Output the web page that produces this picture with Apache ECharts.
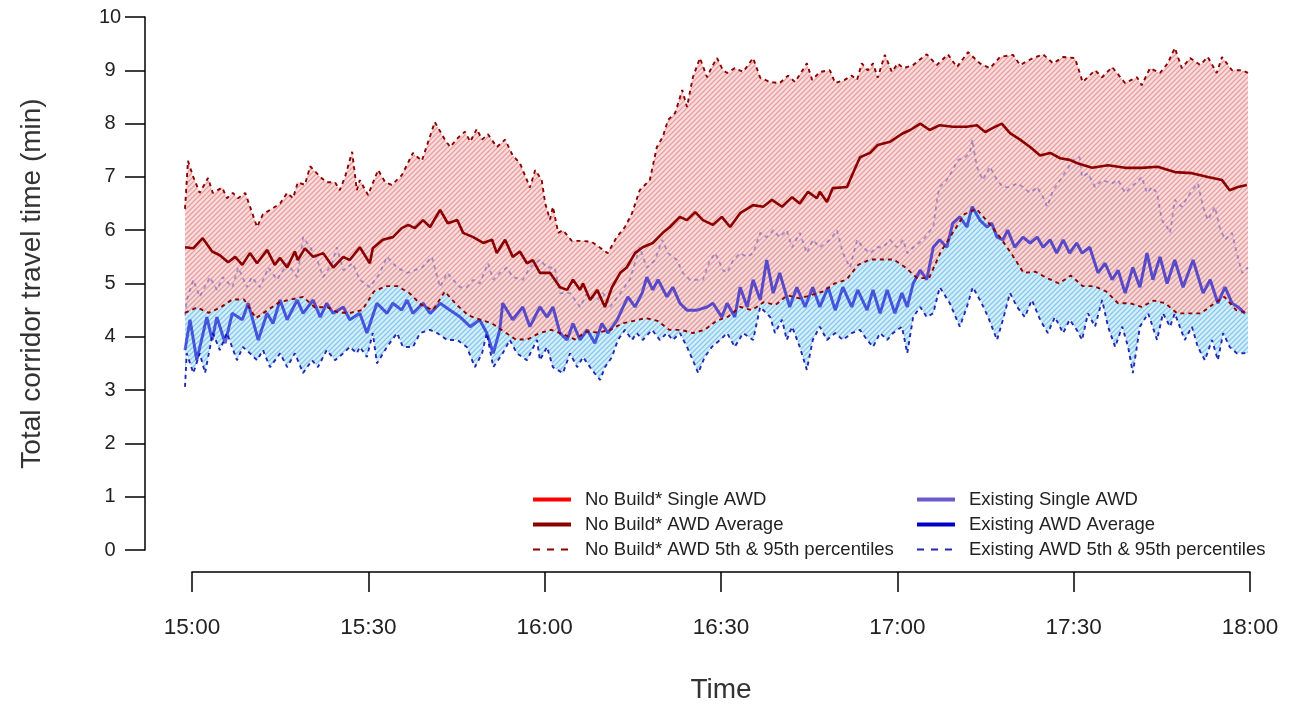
<!DOCTYPE html>
<html>
<head>
<meta charset="utf-8">
<script src="https://cdn.jsdelivr.net/npm/echarts@6/dist/echarts.min.js"></script>
<style>
  html, body { margin: 0; padding: 0; background: #fff; }
  #chart { width: 1292px; height: 706px; }
</style>
</head>
<body>
<div id="chart"></div>
<script>
// minutes after 15:00
const timeTicks = [0, 30, 60, 90, 120, 150, 180];

// No Build* 95th percentile
const nbHiT = [0,0.5,1.4,2.5,3.9,4.7,6.3,7.1,8.1,9.0,10.2,12.2,13.2,14.7,16.1,17.3,18.3,19.1,20.3,21.2,22.9,24.0,25.4,26.2,27.1,28.3,29.1,29.6,31.0,32.7,33.9,35.0,36.7,38.6,40.1,42.3,44.0,44.9,46.2,47.4,48.3,49.4,50.3,51.3,52.8,54.2,55.5,56.7,57.9,58.4,59.3,60.4,61.0,61.8,62.3,63.2,64.0,65.5,67.2,68.9,70.3,71.6,73.1,74.5,75.7,77.0,78.7,79.9,80.9,81.8,83.0,84.2,85.0,86.0,87.2,88.4,89.2,90.1,91.1,91.8,93.1,94.5,96.2,97.4,99.1,100.7,102.1,103.3,105.3,106.2,107.5,109.2,110.1,111.7,112.9,113.8,114.6,115.6,116.5,117.3,118.5,119.7,120.7,121.6,123.3,125.6,127.3,129.2,130.7,132.6,134.6,136.3,138.0,140.2,141.4,143.6,145.3,147.0,148.7,150.7,152.0,154.1,155.3,157.0,159.2,161.2,162.0,163.4,165.1,166.4,167.6,168.8,170.2,171.9,173.2,174.7,175.6,177.3,179.0,180];
const nbHiV = [6.4,7.3,7.0,6.7,6.98,6.7,6.8,6.6,6.7,6.6,6.7,6.06,6.3,6.4,6.5,6.7,6.6,6.9,6.85,7.2,7.0,6.9,6.9,6.75,7.0,7.47,6.75,6.94,6.66,7.13,6.9,6.85,7.03,7.45,7.3,8.03,7.7,7.56,7.73,7.85,7.66,7.9,7.7,7.8,7.56,7.7,7.4,7.26,6.94,6.8,7.13,6.94,6.5,6.2,6.44,5.95,6.0,5.8,5.8,5.78,5.67,5.57,5.87,6.06,6.32,6.75,6.94,7.56,7.75,8.07,8.2,8.63,8.31,8.87,9.23,8.87,9.06,9.23,9.0,8.95,9.04,8.97,9.23,8.86,8.78,8.76,8.9,8.78,9.13,8.82,8.97,9.0,8.76,8.82,8.9,8.82,9.13,9.0,9.13,8.86,9.29,8.97,9.13,9.04,9.1,9.3,9.1,9.3,9.06,9.34,9.13,9.04,9.25,9.29,9.1,9.23,9.3,9.13,9.25,9.23,8.78,9.0,8.87,9.06,8.76,8.87,8.72,9.04,8.95,9.13,9.42,9.04,9.23,9.1,9.25,8.95,9.25,9.0,9.0,8.95];

// No Build* 5th percentile
const nbLoT = [0,2,4,6,8,10,12,14,16,18,20,22,24,26,28,30,32,34,36,38,40,42,44,46,48,50,52,54,56,58,60,62,64,66,68,70,72,74,76,78,80,82,84,86,88,90,92,94,96,98,100,102,104,106,108,110,112,114,116,118,120,122,124,126,128,130,132,134,136,138,140,142,144,146,148,150,152,154,156,158,160,162,164,166,168,170,172,174,176,178,180];
const nbLoV = [4.45,4.55,4.45,4.55,4.7,4.7,4.35,4.5,4.65,4.7,4.75,4.55,4.56,4.45,4.45,4.5,4.85,4.95,4.95,4.82,4.6,4.5,4.85,4.6,4.4,4.32,4.25,4.1,3.95,3.95,4.07,4.13,4.05,3.95,4.1,4.08,4.13,4.25,4.3,4.35,4.3,4.13,4.13,4.07,4.13,4.3,4.38,4.56,4.5,4.65,4.6,4.78,4.72,4.78,4.85,5.0,5.07,5.35,5.45,5.45,5.45,5.3,5.1,5.1,5.6,5.95,6.3,6.4,6.15,5.87,5.55,5.2,5.22,5.1,5.0,5.15,4.95,4.95,4.85,4.63,4.63,4.56,4.68,4.63,4.44,4.44,4.44,4.6,4.75,4.5,4.44];

// No Build* AWD average
const nbAvgT = [0,1.4,3.0,4.6,5.9,7.3,8.5,9.7,11.0,12.2,13.9,15.2,16.1,17.3,18.6,19.1,20.3,21.7,23.4,25.1,26.8,27.9,29.6,31.3,31.8,33.5,35.2,36.7,37.8,38.9,40.3,41.5,43.2,44.5,46.1,47.1,48.8,50.5,52.0,52.8,54.2,55.5,56.7,57.9,58.9,60.1,61.8,63.5,64.7,65.7,66.9,67.4,68.6,69.8,71.1,72.3,73.7,74.8,76.2,77.5,79.2,80.9,82.1,83.8,85.0,86.4,87.7,89.4,90.9,92.3,94.0,96.2,97.9,99.4,101.1,102.8,104.1,105.5,107.0,107.5,108.7,109.7,112.1,113.1,114.3,116.0,117.3,119.4,121.6,122.8,124.5,126.1,127.8,130.0,132.4,134.1,135.5,136.8,138.3,139.7,141.4,143.1,144.8,146.5,148.2,149.8,151.0,153.6,156.3,159.2,162.0,164.7,167.6,170.5,173.2,175.6,176.9,178.3,179.8];
const nbAvgV = [5.68,5.66,5.85,5.6,5.53,5.4,5.5,5.35,5.57,5.38,5.63,5.35,5.48,5.3,5.6,5.44,5.66,5.5,5.57,5.3,5.5,5.44,5.68,5.38,5.66,5.82,5.87,6.04,6.1,6.04,6.19,6.06,6.38,6.13,6.19,5.95,5.87,5.76,5.82,5.57,5.82,5.5,5.6,5.38,5.44,5.2,5.2,4.93,4.88,5.07,4.88,5.0,4.69,4.88,4.56,4.93,5.2,5.3,5.57,5.68,5.76,5.95,6.06,6.25,6.19,6.34,6.19,6.1,6.25,6.06,6.32,6.47,6.44,6.57,6.44,6.62,6.5,6.72,6.6,6.72,6.53,6.79,6.81,7.07,7.37,7.45,7.6,7.66,7.82,7.88,8.0,7.88,7.97,7.94,7.94,7.97,7.84,7.92,8.0,7.82,7.7,7.56,7.4,7.45,7.35,7.32,7.26,7.17,7.22,7.17,7.17,7.19,7.09,7.07,7.0,6.94,6.75,6.81,6.85];

// Existing 95th percentile
const exHiT = [0,0.3,1.4,2.5,4.2,5.4,6.4,8.0,9.0,10.5,11.3,12.7,14.1,15.6,17.3,19.0,20.0,21.2,22.4,23.4,24.9,25.7,26.8,28.4,29.6,31.3,33.0,34.2,35.9,37.6,38.9,40.1,41.8,43.2,44.4,45.4,46.6,47.7,48.8,49.9,51.3,52.2,53.3,54.5,55.5,57.2,58.4,60.1,61.3,62.6,63.5,65.2,66.9,68.1,69.8,70.8,72.0,73.7,75.3,77.0,78.2,79.6,80.8,81.8,83.3,84.3,85.5,86.7,87.7,88.9,89.8,91.1,91.8,92.8,94.0,95.2,96.2,97.4,98.5,99.6,100.7,101.9,102.8,104.1,105.3,106.3,107.5,109.2,110.4,111.4,112.6,113.8,114.8,116.0,117.2,118.2,119.4,120.5,121.6,122.3,123.3,125.0,126.7,127.4,127.8,129.0,130.0,130.9,132.1,132.9,133.3,134.1,135.1,136.3,137.5,138.5,139.7,140.9,141.9,143.1,144.3,145.3,146.0,147.0,148.2,149.3,150.4,151.5,151.9,152.9,154.1,155.3,157.0,158.0,159.2,160.9,162.0,162.9,163.7,164.6,165.4,166.3,166.8,167.6,168.8,170.2,171.5,172.4,173.2,174.4,175.2,176.1,177.3,178.1,179.0,180];
const exHiV = [4.4,4.69,5.07,4.75,5.12,4.88,5.12,4.93,5.3,4.93,5.12,4.93,5.3,5.07,5.38,5.12,5.87,5.68,5.44,5.12,5.38,5.68,5.25,5.38,5.07,4.93,5.2,5.5,5.3,5.2,5.25,5.3,5.5,4.93,5.2,5.07,4.93,4.93,5.07,5.0,5.38,5.07,5.2,5.3,5.12,5.07,5.3,5.45,5.3,5.3,4.82,4.82,4.56,4.82,4.69,4.82,4.56,4.82,5.07,5.68,5.3,5.44,5.82,5.57,5.44,5.2,5.07,5.07,5.07,5.44,5.57,5.25,5.2,5.44,5.57,5.5,5.57,5.95,5.87,6.0,5.87,6.0,5.68,5.95,5.57,5.82,5.68,5.82,6.0,5.57,5.3,5.82,5.68,5.57,5.68,5.68,5.82,5.68,5.82,5.57,5.68,5.82,6.06,6.62,6.81,6.94,7.13,7.32,7.37,7.45,7.7,7.19,6.94,7.19,6.94,6.81,6.81,6.88,6.81,6.7,6.81,6.62,6.44,6.75,6.94,7.13,7.32,7.37,7.0,7.07,6.81,6.94,6.88,6.94,6.7,6.88,7.0,6.7,6.81,6.7,6.19,6.06,5.95,6.57,6.44,6.7,6.88,6.44,6.19,6.44,6.06,5.82,5.95,5.57,5.2,5.3];

// Existing 5th percentile
const exLoT = [0,0.3,1.4,2.5,3.4,4.7,5.9,7.1,8.8,9.8,11.0,12.2,13.2,14.4,16.1,17.3,18.6,20.0,21.5,22.5,24.0,25.4,26.8,27.9,29.1,29.6,30.8,31.8,32.5,34.2,35.9,36.9,38.6,39.8,41.5,42.7,44.4,46.1,47.7,49.1,50.3,51.1,52.2,53.8,55.0,56.2,57.9,59.6,60.1,61.3,62.3,64.0,65.2,66.4,67.4,68.9,70.3,71.1,72.3,73.3,74.5,75.7,76.5,77.5,79.1,80.4,81.6,82.6,83.8,85.0,86.0,86.9,88.0,89.2,90.6,91.8,93.1,94.5,96.2,97.4,99.1,99.9,101.1,101.9,102.8,104.1,105.3,106.3,107.5,108.7,110.1,111.4,112.9,114.3,115.5,116.5,117.7,118.9,119.9,121.4,122.3,123.3,124.5,125.6,126.7,127.8,129.5,131.2,132.4,133.4,134.9,136.0,137.5,138.5,139.7,140.9,142.2,143.4,144.8,146.1,147.3,148.7,149.8,151.0,151.9,152.9,154.1,155.3,156.3,157.5,158.7,159.7,160.5,161.7,163.1,164.6,165.6,166.8,167.6,169.3,170.5,171.5,172.7,173.9,174.9,175.8,176.9,178.1,179.1,180];
const exLoV = [3.06,3.69,3.32,3.69,3.32,4.07,3.75,4.07,3.56,3.81,3.69,3.56,3.75,3.43,3.69,3.43,3.69,3.32,3.56,3.43,3.75,3.56,3.69,3.81,3.69,3.81,3.62,4.07,3.5,3.81,4.07,3.81,3.81,4.07,4.13,4.07,3.94,3.94,3.81,3.43,3.69,4.07,3.43,3.69,3.94,3.69,3.56,3.94,3.56,3.81,3.43,3.32,3.69,3.43,3.62,3.38,3.19,3.43,3.62,3.94,4.13,3.94,4.07,3.94,4.13,3.94,4.07,3.94,4.07,3.81,3.56,3.32,3.62,3.81,3.94,4.07,3.81,4.07,3.94,4.56,4.37,4.07,4.32,3.94,4.19,3.81,3.38,3.94,4.19,3.94,4.07,3.94,4.07,4.13,3.94,3.81,4.07,3.94,4.07,4.19,3.69,4.37,4.56,4.37,4.44,4.93,4.63,4.19,4.56,4.93,4.63,4.37,3.94,4.32,4.82,4.56,4.37,4.69,4.32,4.07,4.37,4.07,4.32,4.13,3.94,4.44,4.19,4.69,4.19,3.81,4.19,3.81,3.32,4.19,4.44,3.94,4.44,4.19,4.44,3.94,4.19,3.81,3.56,3.94,3.56,4.07,3.81,3.69,3.69,3.7];

// Existing AWD average
const exAvgT = [0,0.85,2.0,3.7,4.6,5.4,6.8,8.0,9.7,10.7,12.4,13.9,14.9,16.1,17.3,19.0,20.0,21.7,22.9,24.0,25.1,26.8,27.9,29.6,30.8,32.5,34.2,35.2,36.7,37.6,38.6,40.3,41.5,43.2,44.9,46.6,48.3,49.9,51.1,52.2,53.3,53.8,55.5,57.2,58.4,60.1,61.3,62.3,63.5,64.7,65.7,66.9,68.1,69.4,70.6,71.6,73.2,74.2,75.0,76.2,77.4,78.2,79.2,80.1,81.6,82.6,83.8,85.0,86.7,88.4,89.4,90.9,91.8,93.1,94.0,95.2,96.2,97.4,98.5,99.6,100.7,102.4,103.6,105.0,106.3,107.5,108.9,110.1,111.4,112.9,113.9,115.5,116.5,117.7,118.9,120.2,121.4,122.3,123.3,124.5,125.6,126.7,127.8,129.0,130.0,131.2,132.4,133.3,134.6,135.8,136.6,137.5,138.5,139.3,140.5,141.9,143.1,144.3,145.3,146.5,147.6,148.7,149.8,151.0,151.9,153.2,154.6,155.8,157.0,158.0,159.2,160.5,161.7,162.9,163.9,165.1,166.3,167.6,169.0,170.7,172.4,173.6,174.9,176.1,177.3,178.3,179.5];
const exAvgV = [3.75,4.32,3.56,4.37,3.94,4.37,3.88,4.44,4.32,4.63,3.94,4.44,4.25,4.69,4.32,4.69,4.44,4.69,4.37,4.63,4.44,4.56,4.32,4.44,4.07,4.63,4.44,4.63,4.5,4.69,4.44,4.63,4.44,4.63,4.5,4.37,4.19,4.32,4.07,3.69,4.13,4.63,4.32,4.56,4.19,4.56,4.37,4.56,4.07,3.94,4.25,3.94,4.13,3.88,4.25,4.07,4.32,4.56,4.75,4.56,4.82,5.12,4.88,5.07,4.75,4.93,4.63,4.5,4.5,4.56,4.63,4.37,4.63,4.37,4.93,4.56,5.07,4.69,5.44,4.82,5.2,4.56,4.93,4.56,4.93,4.56,4.93,4.5,4.93,4.56,4.88,4.5,4.88,4.44,4.88,4.44,4.82,4.56,5.0,5.25,5.07,5.68,5.82,5.68,6.13,6.25,6.06,6.44,6.19,6.06,6.13,5.87,5.82,6.0,5.68,5.87,5.76,5.87,5.68,5.82,5.57,5.82,5.57,5.76,5.57,5.68,5.2,5.38,5.07,5.25,4.82,5.3,4.93,5.57,5.07,5.5,5.0,5.44,4.93,5.44,4.82,5.07,4.63,4.93,4.63,4.56,4.44];

const FONT = "'Liberation Sans', Arial, sans-serif";

// diagonal hatch fill, like R's density shading
function hatch(bg, fg) {
  const c = document.createElement("canvas");
  c.width = 5;
  c.height = 5;
  const ctx = c.getContext("2d");
  ctx.fillStyle = bg;
  ctx.fillRect(0, 0, 5, 5);
  ctx.strokeStyle = fg;
  ctx.lineWidth = 1.3;
  ctx.beginPath();
  ctx.moveTo(-1, 6); ctx.lineTo(6, -1);
  ctx.moveTo(-1, 1); ctx.lineTo(1, -1);
  ctx.moveTo(4, 6); ctx.lineTo(6, 4);
  ctx.stroke();
  return { image: c, repeat: "repeat" };
}

const pair = (ts, vs) => ts.map((t, i) => [t, vs[i]]);

function band(id, hiT, hiV, loT, loV, fill, z) {
  return {
    type: "custom",
    id: id,
    z: z,
    silent: true,
    clip: true,
    xAxisIndex: 0,
    yAxisIndex: 0,
    data: [[0, 0]],
    renderItem: (params, api) => {
      const pts = [];
      hiT.forEach((t, i) => pts.push(api.coord([t, hiV[i]])));
      for (let i = loT.length - 1; i >= 0; i--) pts.push(api.coord([loT[i], loV[i]]));
      return { type: "polygon", shape: { points: pts }, style: { fill: fill } };
    },
  };
}

function line(name, data, color, width, type, z, opacity) {
  return {
    type: "line",
    name: name,
    data: data,
    z: z,
    xAxisIndex: 0,
    yAxisIndex: 0,
    symbol: "none",
    showSymbol: false,
    color: color,
    lineStyle: { color: color, width: width, type: type, opacity: opacity == null ? 1 : opacity },
  };
}

const legendText = { fontSize: 18.5, color: "#222", fontFamily: FONT, padding: [0, 0, 0, 9] };
const solidItem = (name) => ({ name: name, lineStyle: { width: 4, opacity: 1 }, itemStyle: { opacity: 0 } });
const dashItem = (name) => ({ name: name, lineStyle: { width: 2, type: [7, 7], opacity: 1 }, itemStyle: { opacity: 0 } });

const chart = echarts.init(document.getElementById("chart"));
const option = {
  animation: false,
  backgroundColor: "#fff",
  textStyle: { fontFamily: FONT },
  grid: [
    { left: 185, right: 44, top: 17, bottom: 156 },
    { left: 192, right: 42, top: 540, bottom: 134 },
  ],
  xAxis: [
    { type: "value", gridIndex: 0, min: 0, max: 180, show: false },
    {
      type: "value",
      gridIndex: 1,
      min: 0,
      max: 180,
      interval: 30,
      position: "bottom",
      splitLine: { show: false },
      axisLine: { show: true, onZero: false, lineStyle: { color: "#000", width: 1.5 } },
      axisTick: { show: true, length: 20, lineStyle: { color: "#000", width: 1.5 } },
      axisLabel: {
        margin: 44,
        fontSize: 22.5,
        color: "#222",
        fontFamily: FONT,
        formatter: (v) => {
          const h = 15 + Math.floor(v / 60);
          const m = v % 60;
          return h + ":" + (m < 10 ? "0" + m : m);
        },
      },
      name: "Time",
      nameLocation: "middle",
      nameGap: 104,
      nameTextStyle: { fontSize: 28, color: "#333", fontFamily: FONT },
    },
  ],
  yAxis: [
    {
      type: "value",
      gridIndex: 0,
      min: 0,
      max: 10,
      interval: 1,
      offset: 40,
      splitLine: { show: false },
      axisLine: { show: true, onZero: false, lineStyle: { color: "#000", width: 1.5 } },
      axisTick: { show: true, length: 20, lineStyle: { color: "#000", width: 1.5 } },
      axisLabel: { margin: 35, align: "center", fontSize: 20, color: "#222", fontFamily: FONT },
      name: "Total corridor travel time (min)",
      nameLocation: "middle",
      nameGap: 99,
      nameTextStyle: { fontSize: 28, color: "#333", fontFamily: FONT },
    },
    { type: "value", gridIndex: 1, show: false, min: 0, max: 1 },
  ],
  legend: [
    {
      orient: "vertical",
      left: 526,
      top: 485,
      itemWidth: 38,
      itemHeight: 14,
      itemGap: 6,
      textStyle: legendText,
      data: [
        solidItem("No Build* Single AWD"),
        solidItem("No Build* AWD Average"),
        dashItem("No Build* AWD 5th & 95th percentiles"),
      ],
    },
    {
      orient: "vertical",
      left: 910,
      top: 485,
      itemWidth: 38,
      itemHeight: 14,
      itemGap: 6,
      textStyle: legendText,
      data: [
        solidItem("Existing Single AWD"),
        solidItem("Existing AWD Average"),
        dashItem("Existing AWD 5th & 95th percentiles"),
      ],
    },
  ],
  series: [
    band("exBand", exHiT, exHiV, exLoT, exLoV, hatch("#d4eefa", "#86c9ec"), 1),
    line("Existing AWD 5th & 95th percentiles", pair(exLoT, exLoV), "#2428b0", 1.9, [4, 4], 2),
    band("nbBand", nbHiT, nbHiV, nbLoT, nbLoV, hatch("rgba(250,214,214,0.85)", "rgba(228,150,150,0.88)"), 3),
    line("Existing AWD 5th & 95th percentiles", pair(exHiT, exHiV), "#3a2ab8", 1.8, [4, 4], 4, 0.4),
    line("Existing AWD Average", pair(exAvgT, exAvgV), "#0000c8", 3, "solid", 4, 0.62),
    line("No Build* AWD 5th & 95th percentiles", pair(nbHiT, nbHiV), "#8b0000", 1.9, [4, 4], 5),
    line("No Build* AWD 5th & 95th percentiles", pair(nbLoT, nbLoV), "#8b0000", 1.9, [4, 4], 5),
    line("No Build* AWD Average", pair(nbAvgT, nbAvgV), "#8b0000", 2.6, "solid", 5),
    line("No Build* Single AWD", [], "#ff0000", 2, "solid", 5),
    line("Existing Single AWD", [], "#6a5acd", 2, "solid", 5),
  ],
};
chart.setOption(option);
</script>
</body>
</html>
